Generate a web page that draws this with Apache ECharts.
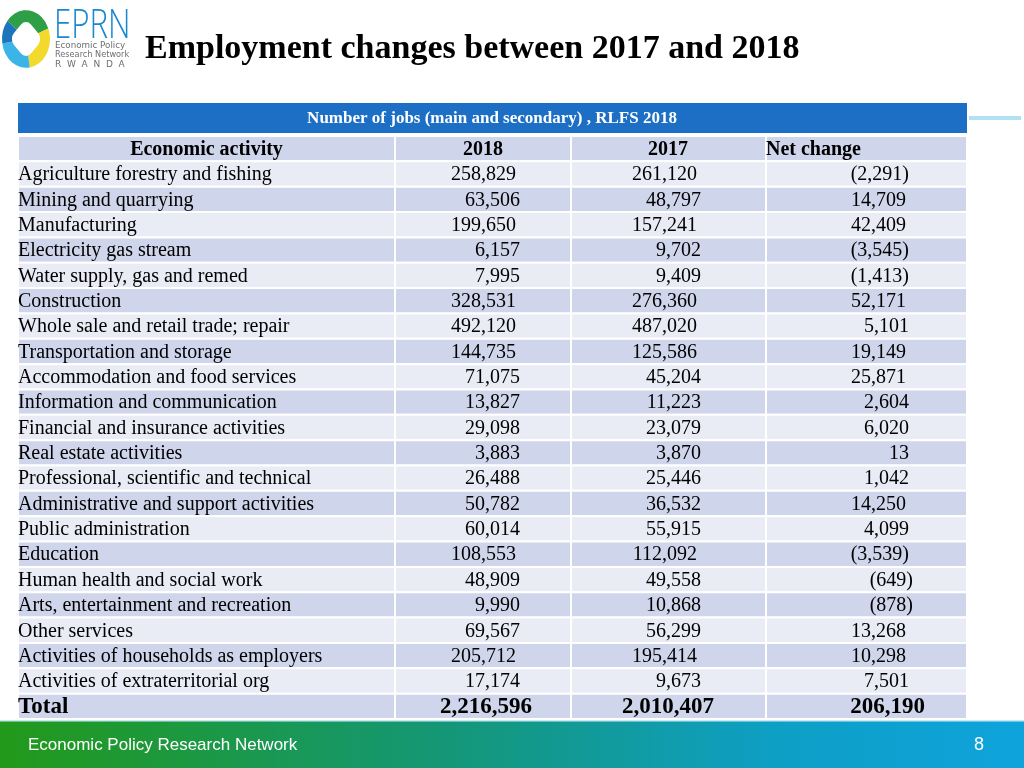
<!DOCTYPE html>
<html><head><meta charset="utf-8">
<script src="https://cdn.jsdelivr.net/npm/echarts@6/dist/echarts.min.js"></script>
<style>html,body{margin:0;padding:0;background:#fff}#c{width:1024px;height:768px}</style>
</head><body><div id="c"></div>
<script>
const pageTitle = 'Employment changes between 2017 and 2018';
const tableTitle = 'Number of jobs (main and secondary) , RLFS 2018';
const headers = ['Economic activity', '2018', '2017', 'Net change'];
const activities = [
  'Agriculture forestry and fishing','Mining and quarrying','Manufacturing','Electricity gas stream',
  'Water supply, gas and remed','Construction','Whole sale and retail trade; repair','Transportation and storage',
  'Accommodation and food services','Information and communication','Financial and insurance activities',
  'Real estate activities','Professional, scientific and technical','Administrative and support activities',
  'Public administration','Education','Human health and social work','Arts, entertainment and recreation',
  'Other services','Activities of households as employers','Activities of extraterritorial org'
];
const jobs2018 = [258829,63506,199650,6157,7995,328531,492120,144735,71075,13827,29098,3883,26488,50782,60014,108553,48909,9990,69567,205712,17174];
const jobs2017 = [261120,48797,157241,9702,9409,276360,487020,125586,45204,11223,23079,3870,25446,36532,55915,112092,49558,10868,56299,195414,9673];
const netChange = [-2291,14709,42409,-3545,-1413,52171,5101,19149,25871,2604,6020,13,1042,14250,4099,-3539,-649,-878,13268,10298,7501];
const totalLabel = 'Total';
const totals = [2216596, 2010407, 206190];
const footerText = 'Economic Policy Research Network';
const pageNumber = '8';

const rows = [headers[0]].concat(activities, [totalLabel]);
function fmt(v){ const s = Math.abs(v).toLocaleString('en-US'); return v < 0 ? '(' + s + ')' : s; }

// layout (px offsets of column edges relative to grid left)
const colEdges = [0, 377, 553, 748, 949];
const SERIF = '"Liberation Serif","Times New Roman",serif';

const chart = echarts.init(document.getElementById('c'), null, {renderer:'canvas'});

function renderItem(params, api){
  const i = api.value(1);
  const cs = params.coordSys;
  const c = api.coord([0, i]);
  const h = api.size([0, 1])[1];
  const top = c[1] - h/2, cy = c[1] + 1;
  const x0 = cs.x;
  const fill = (i % 2 === 0) ? '#cfd5ea' : '#e9ebf5';
  const children = [];
  for (let k = 0; k < 4; k++){
    children.push({type:'rect', shape:{x:x0+colEdges[k], y:top, width:colEdges[k+1]-colEdges[k], height:h},
      style:{fill:fill, stroke:'#ffffff', lineWidth:2}});
  }
  const txt = (x, text, align, font) => children.push({type:'text', x:x, y:cy,
    style:{text:text, fill:'#000', font:font, align:align, verticalAlign:'middle'}});
  const body = '20px ' + SERIF, bold = 'bold 20px ' + SERIF, big = 'bold 23px ' + SERIF;
  if (i === 0){
    txt(x0 + (colEdges[0]+colEdges[1])/2, headers[0], 'center', bold);
    txt(x0 + 465, headers[1], 'center', bold);
    txt(x0 + 650, headers[2], 'center', bold);
    txt(x0 + colEdges[3], headers[3], 'left', bold);
  } else if (i === rows.length - 1){
    txt(x0 + 0, totalLabel, 'left', big);
    txt(x0 + 514, fmt(totals[0]), 'right', big);
    txt(x0 + 696, fmt(totals[1]), 'right', big);
    txt(x0 + 907, fmt(totals[2]), 'right', big);
  } else {
    const j = i - 1;
    const a = jobs2018[j], b = jobs2017[j], n = netChange[j];
    txt(x0 + 0, activities[j], 'left', body);
    txt(x0 + 498 + (a < 100000 ? 4 : 0), fmt(a), 'right', body);
    txt(x0 + 679 + (b < 100000 ? 4 : 0), fmt(b), 'right', body);
    txt(x0 + 888 + (Math.abs(n) < 10000 ? 3 : 0) + (n < 0 && Math.abs(n) < 1000 ? 4 : 0), fmt(n), 'right', body);
  }
  return {type:'group', children:children};
}

const option = {
  animation:false,
  backgroundColor:'#ffffff',
  grid:{left:18, right:57, top:136, height:583, containLabel:false},
  xAxis:{type:'value', min:0, max:1, show:false},
  yAxis:{type:'category', data:rows, inverse:true, show:false},
  series:[{type:'custom', renderItem:renderItem, data:rows.map((r,i)=>[0,i]), silent:true}],
  graphic:[
    // logo ring
    {type:'group', x:26, y:39, scaleY:1.2, children:[
      {type:'sector', shape:{cx:0, cy:0, r:24, startAngle:-Math.PI*0.78, endAngle:-Math.PI*0.12}, style:{fill:'#2e9e47'}},
      {type:'sector', shape:{cx:0, cy:0, r:24, startAngle:-Math.PI*0.12, endAngle:Math.PI*0.45}, style:{fill:'#f2d92b'}},
      {type:'sector', shape:{cx:0, cy:0, r:24, startAngle:Math.PI*0.45, endAngle:Math.PI*0.95}, style:{fill:'#3db4e8'}},
      {type:'sector', shape:{cx:0, cy:0, r:24, startAngle:Math.PI*0.95, endAngle:Math.PI*1.22}, style:{fill:'#1c74bb'}},
      {type:'rect', rotation:Math.PI/4, shape:{x:-12, y:-12, width:24, height:24, r:7}, style:{fill:'#ffffff'}}
    ]},
    {type:'text', x:54, y:7, scaleX:0.78, style:{text:'EPRN', font:'300 40px "Open Sans","Liberation Sans",sans-serif', fill:'#1b87cf'}},
    {type:'text', x:55, y:41, scaleX:0.92, style:{text:'Economic Policy', font:'9.5px "DejaVu Sans",sans-serif', fill:'#6d6e70'}},
    {type:'text', x:55, y:50, scaleX:0.86, style:{text:'Research Network', font:'9.5px "DejaVu Sans",sans-serif', fill:'#6d6e70'}},
    {type:'text', x:55, y:60, style:{text:'R  W  A  N  D  A', font:'9px "DejaVu Sans",sans-serif', fill:'#6d6e70'}},
    // page title
    {type:'text', x:145, y:49, style:{text:pageTitle, font:'bold 34px ' + SERIF, fill:'#000', verticalAlign:'middle'}},
    // table title bar
    {type:'rect', shape:{x:18, y:103, width:949, height:30}, style:{fill:'#1c6fc5'}},
    {type:'text', x:492, y:119, style:{text:tableTitle, font:'bold 17px ' + SERIF, fill:'#ffffff', align:'center', verticalAlign:'middle'}},
    {type:'rect', shape:{x:969, y:116, width:52, height:4}, style:{fill:'#b3e1f4'}},
    // footer
    {type:'rect', shape:{x:0, y:720, width:1024, height:48}, style:{fill:new echarts.graphic.LinearGradient(0,0,1,0,[
      {offset:0, color:'#22991a'},{offset:0.45, color:'#14977a'},{offset:0.75, color:'#0e9fc4'},{offset:1, color:'#0ea3dc'}])}},
    {type:'rect', shape:{x:0, y:720, width:1024, height:1.5}, style:{fill:'#c8eaf5'}},
    {type:'text', x:28, y:745, style:{text:footerText, font:'17px "Liberation Sans",Arial,sans-serif', fill:'#ffffff', verticalAlign:'middle'}},
    {type:'text', x:979, y:745, style:{text:pageNumber, font:'18px "Liberation Sans",Arial,sans-serif', fill:'#ffffff', align:'center', verticalAlign:'middle'}}
  ]
};
chart.setOption(option);
</script>
</body></html>
